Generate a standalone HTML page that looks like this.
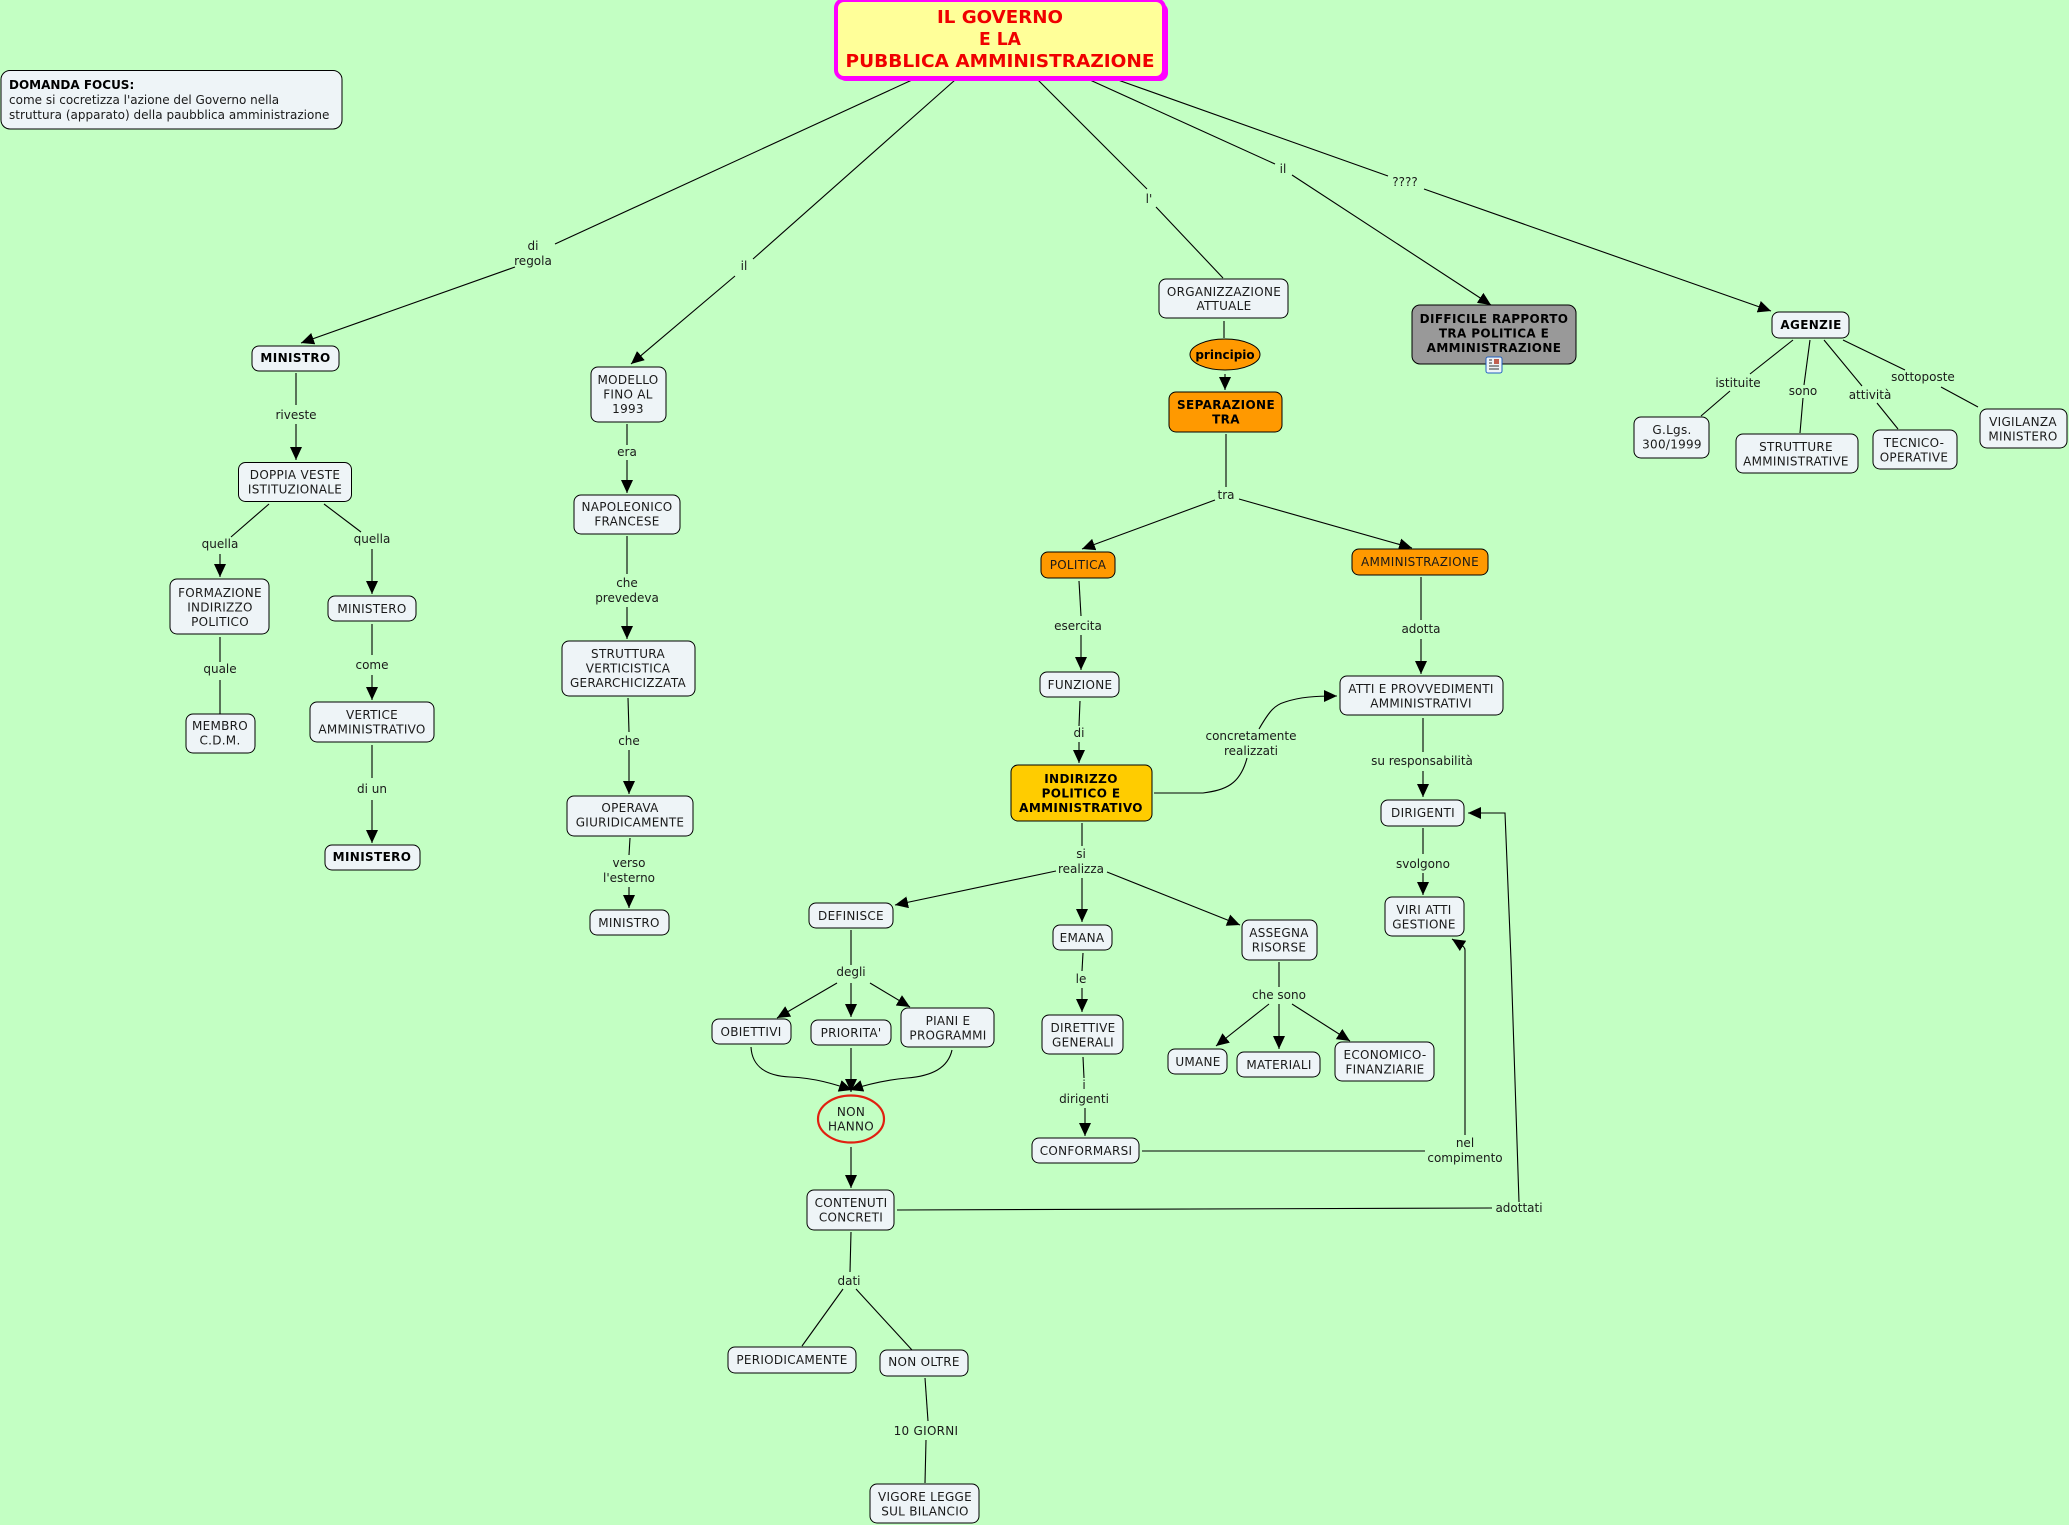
<!DOCTYPE html>
<html><head><meta charset="utf-8"><style>
html,body{margin:0;padding:0;background:#C3FFC3;width:2069px;height:1525px;overflow:hidden}
svg{display:block}
text{font-family:"DejaVu Sans","Liberation Sans",sans-serif;font-size:12px;fill:#1a1a1a;text-anchor:middle;letter-spacing:.28px}
.b{font-weight:bold;letter-spacing:.37px;fill:#000}
.k{letter-spacing:0}
.n rect,.n ellipse{stroke:#000;stroke-width:1;fill:#EEF4F7}
.l path{fill:none;stroke:#000;stroke-width:1.1}
</style></head><body>
<svg width="2069" height="1525" viewBox="0 0 2069 1525" xmlns="http://www.w3.org/2000/svg">
<defs><marker id="a" markerUnits="userSpaceOnUse" markerWidth="14" markerHeight="13" refX="13" refY="6" orient="auto"><path d="M0 0L13 6L0 12Z" fill="#000"/></marker></defs>
<rect width="2069" height="1525" fill="#C3FFC3"/>

<g class="l">
<path d="M912 80L555 244"/><path d="M515 267L301 343" marker-end="url(#a)"/>
<path d="M955 80L753 259"/><path d="M735 276L631 364" marker-end="url(#a)"/>
<path d="M1038 80L1147 189"/><path d="M1156 207L1223 278"/>
<path d="M1090 80L1275 164"/><path d="M1292 175L1491 305" marker-end="url(#a)"/>
<path d="M1118 80L1388 176"/><path d="M1424 189L1771 311" marker-end="url(#a)"/>

<path d="M296 373V405"/><path d="M296 424V460" marker-end="url(#a)"/>
<path d="M269 504L231 537"/><path d="M220 554V577" marker-end="url(#a)"/>
<path d="M324 504L361 532"/><path d="M372 549V594" marker-end="url(#a)"/>
<path d="M220 637V662"/><path d="M220 680V714"/>
<path d="M372 624V655"/><path d="M372 675V700" marker-end="url(#a)"/>
<path d="M372 745V778"/><path d="M372 800V843" marker-end="url(#a)"/>

<path d="M627 424V445"/><path d="M627 460V493" marker-end="url(#a)"/>
<path d="M627 536V574"/><path d="M627 607V639" marker-end="url(#a)"/>
<path d="M628 698L629 732"/><path d="M629 750V794" marker-end="url(#a)"/>
<path d="M630 838L629 855"/><path d="M629 887V908" marker-end="url(#a)"/>

<path d="M1224 321V338"/><path d="M1225 374V390" marker-end="url(#a)"/>
<path d="M1226 434V487"/><path d="M1215 500L1082 549" marker-end="url(#a)"/><path d="M1239 499L1412 548" marker-end="url(#a)"/>
<path d="M1079 581L1081 616"/><path d="M1081 635V670" marker-end="url(#a)"/>
<path d="M1421 577V620"/><path d="M1421 639V674" marker-end="url(#a)"/>
<path d="M1080 701L1079 726"/><path d="M1079 742V763" marker-end="url(#a)"/>
<path d="M1154 793H1203C1225 790 1240 785 1247 758"/><path d="M1259 729C1270 710 1275 705 1285 702C1300 697 1315 696 1337 696" marker-end="url(#a)"/>
<path d="M1423 718V752"/><path d="M1423 771V797" marker-end="url(#a)"/>
<path d="M1423 828V854"/><path d="M1423 873V895" marker-end="url(#a)"/>
<path d="M1082 823V846"/><path d="M1056 871L895 905" marker-end="url(#a)"/><path d="M1082 878V922" marker-end="url(#a)"/><path d="M1107 872L1240 925" marker-end="url(#a)"/>
<path d="M851 930V965"/><path d="M837 983L777 1018" marker-end="url(#a)"/><path d="M851 983V1017" marker-end="url(#a)"/><path d="M870 983L910 1007" marker-end="url(#a)"/>
<path d="M751 1047C752 1067 767 1076 790 1077C815 1078 834 1084 852 1090" marker-end="url(#a)"/>
<path d="M952 1050C948 1068 932 1076 907 1078C885 1080 868 1084 850 1090" marker-end="url(#a)"/>
<path d="M851 1048V1092" marker-end="url(#a)"/>
<path d="M851 1147V1188" marker-end="url(#a)"/>
<path d="M851 1232L850 1272"/><path d="M843 1289L802 1346"/><path d="M856 1289L912 1350"/>
<path d="M925 1378L928 1421"/><path d="M926 1440L925 1483"/>
<path d="M1083 953L1082 971"/><path d="M1082 988V1012" marker-end="url(#a)"/>
<path d="M1083 1057L1084 1078"/><path d="M1085 1108V1136" marker-end="url(#a)"/>
<path d="M1279 962V987"/><path d="M1269 1004L1216 1046" marker-end="url(#a)"/><path d="M1279 1004V1049" marker-end="url(#a)"/><path d="M1292 1004L1350 1041" marker-end="url(#a)"/>
<path d="M1142 1151H1425"/><path d="M1465 1135V950Q1465 947 1460 944L1452 939" marker-end="url(#a)"/>
<path d="M897 1210L1492 1208"/><path d="M1519 1202L1511 960L1505 813H1468" marker-end="url(#a)"/>
<path d="M1793 340L1750 374"/><path d="M1730 391L1701 416"/>
<path d="M1810 340L1804 385"/><path d="M1803 398L1800 433"/>
<path d="M1824 340L1862 386"/><path d="M1877 403L1898 429"/>
<path d="M1843 340L1905 370"/><path d="M1941 387L1978 407"/>
</g>

<rect x="838" y="3" width="330" height="78" rx="8" fill="#FF00FF"/>
<rect x="836" y="0" width="328" height="78" rx="8" fill="#FFFF99" stroke="#FF00FF" stroke-width="4"/>
<text class="k" x="1000" y="23" style="font-weight:bold;font-size:17.6px;fill:#F00000" textLength="126" lengthAdjust="spacingAndGlyphs">IL GOVERNO</text>
<text class="k" x="1000" y="45" style="font-weight:bold;font-size:17.6px;fill:#F00000" textLength="42" lengthAdjust="spacingAndGlyphs">E LA</text>
<text class="k" x="1000" y="67" style="font-weight:bold;font-size:17.6px;fill:#F00000" textLength="309" lengthAdjust="spacingAndGlyphs">PUBBLICA AMMINISTRAZIONE</text>

<g class="n">
<rect x="1" y="70.500" width="341" height="58.500" rx="9"/>
<rect x="252" y="346" width="87" height="25" rx="7"/>
<rect x="238.500" y="462.500" width="113" height="39" rx="7"/>
<rect x="170" y="579" width="99" height="55" rx="7"/>
<rect x="328" y="596" width="88" height="25" rx="7"/>
<rect x="186" y="714" width="69" height="39" rx="7"/>
<rect x="310" y="702" width="124" height="40" rx="7"/>
<rect x="325" y="845" width="95" height="25" rx="7"/>
<rect x="591" y="367" width="75" height="55" rx="7"/>
<rect x="574" y="495" width="106" height="39" rx="7"/>
<rect x="562" y="641" width="133" height="55" rx="7"/>
<rect x="567" y="796" width="126" height="40" rx="7"/>
<rect x="590" y="910" width="79" height="25" rx="7"/>
<rect x="1159" y="279" width="129" height="39" rx="7"/>
<ellipse cx="1225" cy="354.500" rx="35" ry="15.500" style="fill:#FF9900"/>
<rect x="1169" y="392" width="113" height="40" rx="7" style="fill:#FF9900"/>
<rect x="1412" y="305" width="164" height="59" rx="8" style="fill:#999999"/>
<rect x="1772" y="312" width="77" height="26" rx="7"/>
<rect x="1634" y="417" width="75" height="41" rx="7"/>
<rect x="1736" y="434" width="122" height="39" rx="7"/>
<rect x="1873" y="430" width="84" height="39" rx="7"/>
<rect x="1980" y="409" width="87" height="39" rx="7"/>
<rect x="1041" y="552" width="74" height="26" rx="7" style="fill:#FF9900"/>
<rect x="1352" y="549" width="136" height="26" rx="7" style="fill:#FF9900"/>
<rect x="1040" y="672" width="79" height="25" rx="7"/>
<rect x="1340" y="676" width="163" height="39" rx="7"/>
<rect x="1381" y="800" width="83" height="26" rx="7"/>
<rect x="1011" y="765" width="141" height="56" rx="7" style="fill:#FFCC00"/>
<rect x="1385" y="897" width="79" height="39" rx="7"/>
<rect x="809" y="903" width="84" height="25" rx="7"/>
<rect x="1053" y="925" width="59" height="25" rx="7"/>
<rect x="1242" y="920" width="75" height="40" rx="7"/>
<rect x="712" y="1019" width="79" height="25" rx="7"/>
<rect x="811" y="1020" width="80" height="25" rx="7"/>
<rect x="901" y="1008" width="93" height="39" rx="7"/>
<ellipse cx="851" cy="1119" rx="33" ry="23.500" style="fill:#C3FFC3;stroke:#E02010;stroke-width:2.200"/>
<rect x="807" y="1190" width="87" height="40" rx="7"/>
<rect x="1042" y="1015" width="81" height="39" rx="7"/>
<rect x="1032" y="1138" width="107" height="25" rx="7"/>
<rect x="1168" y="1049" width="59" height="25" rx="7"/>
<rect x="1237" y="1052" width="83" height="25" rx="7"/>
<rect x="1335" y="1042" width="99" height="39" rx="7"/>
<rect x="728" y="1347" width="128" height="26" rx="7"/>
<rect x="880" y="1350" width="88" height="26" rx="7"/>
<rect x="870" y="1484" width="109" height="39" rx="7"/>
</g>

<g fill="#EEF4F7" stroke="#2060C0" stroke-width="1"><rect x="1486" y="357" width="16" height="16" rx="2"/></g>
<g stroke="#333" stroke-width="1"><path d="M1489 360h3M1489 363h3M1489 366h10M1489 369h10"/></g><rect x="1494" y="359" width="5" height="5" fill="#C06050"/>

<text class="b k" x="9" y="89" style="text-anchor:start">DOMANDA FOCUS:</text>
<text class="k" x="9" y="104" style="text-anchor:start">come si cocretizza l'azione del Governo nella</text>
<text class="k" x="9" y="119" style="text-anchor:start;letter-spacing:.02px">struttura (apparato) della paubblica amministrazione</text>

<text class="k" x="533" y="250">di</text><text class="k" x="533" y="265">regola</text>
<text class="k" x="744" y="270">il</text><text class="k" x="1149" y="203">l'</text><text class="k" x="1283" y="173">il</text><text class="k" x="1405" y="186">????</text>

<text class="b" x="295.500" y="362">MINISTRO</text>
<text class="k" x="296" y="419">riveste</text>
<text x="295" y="479">DOPPIA VESTE</text><text x="295" y="493.500">ISTITUZIONALE</text>
<text class="k" x="220" y="548">quella</text><text class="k" x="372" y="543">quella</text>
<text x="220" y="597">FORMAZIONE</text><text x="220" y="611.500">INDIRIZZO</text><text x="220" y="626">POLITICO</text>
<text x="372" y="613">MINISTERO</text>
<text class="k" x="220" y="673">quale</text>
<text x="220" y="730">MEMBRO</text><text x="220" y="744.500">C.D.M.</text>
<text class="k" x="372" y="669">come</text>
<text x="372" y="719">VERTICE</text><text x="372" y="733.500">AMMINISTRATIVO</text>
<text class="k" x="372" y="793">di un</text>
<text class="b" x="372" y="861">MINISTERO</text>

<text x="628" y="384">MODELLO</text><text x="628" y="398.500">FINO AL</text><text x="628" y="413">1993</text>
<text class="k" x="627" y="456">era</text>
<text x="627" y="511">NAPOLEONICO</text><text x="627" y="525.500">FRANCESE</text>
<text class="k" x="627" y="587">che</text><text class="k" x="627" y="602">prevedeva</text>
<text x="628" y="658">STRUTTURA</text><text x="628" y="672.500">VERTICISTICA</text><text x="628" y="687">GERARCHICIZZATA</text>
<text class="k" x="629" y="745">che</text>
<text x="630" y="812">OPERAVA</text><text x="630" y="826.500">GIURIDICAMENTE</text>
<text class="k" x="629" y="867">verso</text><text class="k" x="629" y="882">l'esterno</text>
<text x="629" y="927">MINISTRO</text>

<text x="1224" y="296">ORGANIZZAZIONE</text><text x="1224" y="310">ATTUALE</text>
<text class="b k" x="1225" y="359">principio</text>
<text class="b" x="1226" y="409">SEPARAZIONE</text><text class="b" x="1226" y="423.500">TRA</text>
<text class="k" x="1226" y="499">tra</text>
<text x="1078" y="569">POLITICA</text>
<text x="1420" y="566">AMMINISTRAZIONE</text>
<text class="k" x="1078" y="630">esercita</text><text class="k" x="1421" y="633">adotta</text>
<text x="1080" y="689">FUNZIONE</text>
<text class="k" x="1079" y="737">di</text>
<text x="1421" y="693">ATTI E PROVVEDIMENTI</text><text x="1421" y="707.500">AMMINISTRATIVI</text>
<text class="k" x="1251" y="740">concretamente</text><text class="k" x="1251" y="755">realizzati</text>
<text class="k" x="1422" y="765">su responsabilità</text>
<text x="1423" y="817">DIRIGENTI</text>
<text class="b" x="1081" y="783">INDIRIZZO</text><text class="b" x="1081" y="797.500">POLITICO E</text><text class="b" x="1081" y="812">AMMINISTRATIVO</text>
<text class="k" x="1423" y="868">svolgono</text>
<text x="1424" y="914">VIRI ATTI</text><text x="1424" y="928.500">GESTIONE</text>
<text class="k" x="1081" y="858">si</text><text class="k" x="1081" y="873">realizza</text>
<text x="851" y="920">DEFINISCE</text><text x="1082" y="942">EMANA</text>
<text x="1279" y="937">ASSEGNA</text><text x="1279" y="951.500">RISORSE</text>
<text class="k" x="851" y="976">degli</text><text class="k" x="1081" y="983">le</text><text class="k" x="1279" y="999">che sono</text>
<text x="751" y="1036">OBIETTIVI</text><text x="851" y="1037">PRIORITA'</text>
<text x="948" y="1025">PIANI E</text><text x="948" y="1039.500">PROGRAMMI</text>
<text x="851" y="1116">NON</text><text x="851" y="1130.500">HANNO</text>
<text x="851" y="1207">CONTENUTI</text><text x="851" y="1221.500">CONCRETI</text>
<text x="1083" y="1032">DIRETTIVE</text><text x="1083" y="1046.500">GENERALI</text>
<text class="k" x="1084" y="1089">i</text><text class="k" x="1084" y="1103">dirigenti</text>
<text x="1086" y="1155">CONFORMARSI</text>
<text x="1198" y="1066">UMANE</text><text x="1279" y="1069">MATERIALI</text>
<text x="1385" y="1059">ECONOMICO-</text><text x="1385" y="1073.500">FINANZIARIE</text>
<text class="k" x="1465" y="1147">nel</text><text class="k" x="1465" y="1162">compimento</text>
<text class="k" x="1519" y="1212">adottati</text>
<text class="k" x="849" y="1285">dati</text>
<text x="792" y="1364">PERIODICAMENTE</text><text x="924" y="1366">NON OLTRE</text>
<text x="926" y="1435">10 GIORNI</text>
<text x="925" y="1501">VIGORE LEGGE</text><text x="925" y="1515.500">SUL BILANCIO</text>

<text class="b" x="1494" y="323">DIFFICILE RAPPORTO</text><text class="b" x="1494" y="337.500">TRA POLITICA E</text><text class="b" x="1494" y="352">AMMINISTRAZIONE</text>
<text class="b" x="1811" y="329">AGENZIE</text>
<text class="k" x="1738" y="387">istituite</text><text class="k" x="1803" y="395">sono</text><text class="k" x="1870" y="399">attività</text><text class="k" x="1923" y="381">sottoposte</text>
<text x="1672" y="434">G.Lgs.</text><text x="1672" y="448.500">300/1999</text>
<text x="1796" y="451">STRUTTURE</text><text x="1796" y="465.500">AMMINISTRATIVE</text>
<text x="1914" y="447">TECNICO-</text><text x="1914" y="461.500">OPERATIVE</text>
<text x="2023" y="426">VIGILANZA</text><text x="2023" y="440.500">MINISTERO</text>
</svg>
</body></html>
